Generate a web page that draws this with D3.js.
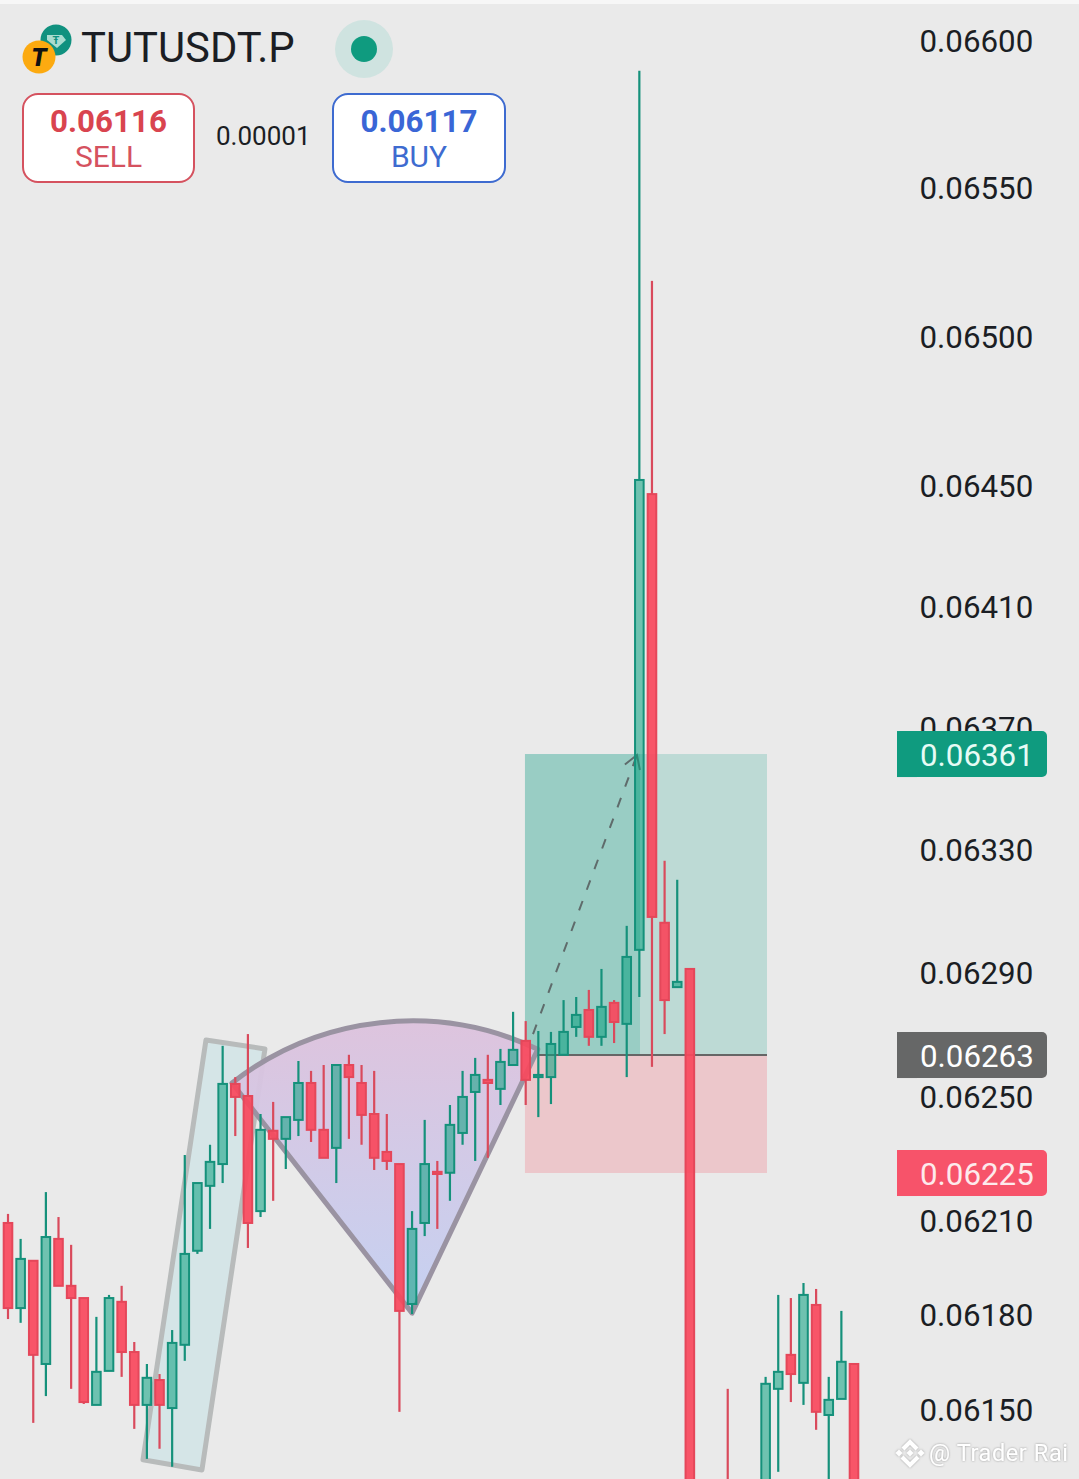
<!DOCTYPE html>
<html>
<head>
<meta charset="utf-8">
<script src="https://cdn.jsdelivr.net/npm/d3@7"></script>
<style>
html, body { margin: 0; padding: 0; background: #eaeaea; overflow: hidden; }
text { font-family: Roboto, sans-serif; }
</style>
</head>
<body>
<div id="chart"></div>
<script>
const width = 1079;
const height = 1479;

// bars 55, 56, 58, 59 sit fully below the visible window
const barIndex = [0,1,2,3,4,5,6,7,8,9,10,11,12,13,14,15,16,17,18,19,20,21,22,23,24,25,26,27,28,29,30,31,32,33,34,35,36,37,38,39,40,41,42,43,44,45,46,47,48,49,50,51,52,53,54,57,60,61,62,63,64,65,66,67];
const opens = [.062093,.061821,.061972,.061643,.062042,.061892,.061853,.061513,.061621,.061841,.061681,.061513,.061592,.061503,.061704,.062004,.062212,.062282,.062540,.062501,.062131,.062389,.062363,.062424,.062543,.062392,.062334,.062601,.062543,.062443,.062321,.062282,.061834,.062093,.062257,.062254,.062382,.062514,.062553,.062524,.062601,.062679,.062562,.062562,.062634,.062724,.062779,.062692,.062802,.062734,.062974,.064472,.063062,.062853,.062912,.061250,.061200,.061564,.061672,.061583,.061831,.061481,.061532,.061643];
const highs = [.062122,.062042,.061972,.062192,.062112,.062023,.061853,.061793,.061863,.061892,.061713,.061643,.061611,.061751,.062311,.062221,.062344,.062663,.062562,.062701,.062443,.062482,.062433,.062614,.062582,.062601,.062601,.062634,.062601,.062582,.062443,.062282,.062131,.062424,.062292,.062472,.062582,.062624,.062634,.062653,.062773,.062743,.062711,.062708,.062811,.062821,.062844,.062912,.062811,.063052,.065895,.065185,.063264,.063202,.062912,.061564,.061602,.061863,.061853,.061901,.061882,.061602,.061812,.061643];
const lows = [.061786,.061774,.061456,.061541,.061892,.061564,.061516,.061513,.061621,.061602,.061437,.061342,.061374,.061317,.061653,.061994,.062074,.062221,.062372,.062013,.062112,.062164,.062266,.062372,.062353,.062302,.062221,.062363,.062344,.062263,.062263,.061491,.061802,.062051,.062074,.062164,.062344,.062292,.062302,.062472,.062601,.062472,.062433,.062475,.062634,.062692,.062663,.062663,.062672,.062562,.062821,.062595,.062701,.062853,.061000,.061050,.061150,.061301,.061522,.061513,.061434,.061200,.061532,.061050];
const closes = [.061821,.061978,.061672,.062048,.061892,.061853,.061522,.061618,.061853,.061681,.061513,.061599,.061513,.061710,.061994,.062221,.062289,.062540,.062498,.062093,.062392,.062363,.062433,.062543,.062392,.062302,.062601,.062562,.062440,.062302,.062292,.061812,.062074,.062282,.062250,.062408,.062498,.062569,.062543,.062611,.062650,.062553,.062569,.062669,.062708,.062763,.062692,.062789,.062740,.062951,.064519,.063081,.062811,.062870,.061050,.061100,.061580,.061618,.061611,.061863,.061491,.061529,.061650,.061100];

const priceTicks = [0.066, 0.0655, 0.065, 0.0645, 0.0641, 0.0637, 0.0633, 0.0629, 0.0625, 0.0621, 0.0618, 0.0615];
const takeProfit = 0.06361;
const entry = 0.06263;
const stopLoss = 0.06225;

// drawings, in bar index and price
const flagCorners = [[15.68, .062682], [20.35, .062653], [15.36, .061307], [10.69, .061339]];
const wedgeLeft = [17.74, .062543];
const wedgeTip = [32.0, .061805];
const wedgeRight = [41.82, .062640];
const boxBars = [40.94, 60.11];
const boxDarkEnd = 50.05;
const arrowFrom = [41.58, .062701];
const arrowTo = [49.81, takeProfit];

const x = d3.scaleLinear().domain([0, 67]).range([8, 854]);
const y = d3.scaleLog().domain([0.066, 0.0615]).range([40, 1409]);

const svg = d3.select('#chart').append('svg')
    .attr('width', width)
    .attr('height', height)
    .style('display', 'block');

const defs = svg.append('defs');

const wedgeGrad = defs.append('linearGradient')
    .attr('id', 'wedgeFill')
    .attr('x1', 0).attr('y1', 0).attr('x2', 0).attr('y2', 1);
wedgeGrad.append('stop').attr('offset', '0%').attr('stop-color', '#ddc2dd');
wedgeGrad.append('stop').attr('offset', '100%').attr('stop-color', '#c3d0f2');

defs.append('marker')
    .attr('id', 'arrowHead')
    .attr('markerUnits', 'userSpaceOnUse')
    .attr('viewBox', '-14 -10 16 20')
    .attr('markerWidth', 16).attr('markerHeight', 20)
    .attr('refX', 0).attr('refY', 0)
    .attr('orient', 'auto')
    .append('path')
    .attr('d', 'M-13,-8L0,0L-13,8')
    .attr('fill', 'none')
    .attr('stroke', '#5f6b6b')
    .attr('stroke-width', 2);

defs.append('filter').attr('id', 'markShadow')
    .append('feDropShadow')
    .attr('dx', 0).attr('dy', 0).attr('stdDeviation', 1)
    .attr('flood-color', '#777').attr('flood-opacity', 0.75);

svg.append('rect').attr('width', width).attr('height', height).attr('fill', '#eaeaea');
svg.append('rect').attr('width', width).attr('height', 4).attr('fill', '#f7f7f7');

// position box
const box = svg.append('g').attr('transform', 'translate(0,-1)');
box.append('rect')
    .attr('x', x(boxBars[0])).attr('width', x(boxBars[1]) - x(boxBars[0]))
    .attr('y', y(takeProfit)).attr('height', y(entry) - y(takeProfit))
    .attr('fill', 'rgb(10,155,128)').attr('fill-opacity', 0.2);
box.append('rect')
    .attr('x', x(boxBars[0])).attr('width', x(boxDarkEnd) - x(boxBars[0]))
    .attr('y', y(takeProfit)).attr('height', y(entry) - y(takeProfit))
    .attr('fill', 'rgb(10,155,128)').attr('fill-opacity', 0.2);
box.append('rect')
    .attr('x', x(boxBars[0])).attr('width', x(boxBars[1]) - x(boxBars[0]))
    .attr('y', y(entry)).attr('height', y(stopLoss) - y(entry))
    .attr('fill', 'rgb(245,60,80)').attr('fill-opacity', 0.2);
box.append('line')
    .attr('x1', x(boxBars[0])).attr('x2', x(boxBars[1]))
    .attr('y1', y(entry)).attr('y2', y(entry))
    .attr('stroke', '#666').attr('stroke-width', 2);

// flag
svg.append('path')
    .attr('d', d3.line().x(d => x(d[0])).y(d => y(d[1]))(flagCorners) + 'Z')
    .attr('fill', 'rgb(0,188,212)').attr('fill-opacity', 0.085)
    .attr('stroke', '#b8bbbb').attr('stroke-width', 5)
    .attr('stroke-linejoin', 'round');

// wedge, a sector around its tip
const tipX = x(wedgeTip[0]), tipY = y(wedgeTip[1]);
const leftAngle = Math.atan2(y(wedgeLeft[1]) - tipY, x(wedgeLeft[0]) - tipX);
const rightAngle = Math.atan2(y(wedgeRight[1]) - tipY, x(wedgeRight[0]) - tipX);
const wedgeRadius = Math.hypot(x(wedgeLeft[0]) - tipX, y(wedgeLeft[1]) - tipY);
const wedgePath = d3.path();
wedgePath.moveTo(tipX, tipY);
wedgePath.arc(tipX, tipY, wedgeRadius, leftAngle, rightAngle);
wedgePath.closePath();
svg.append('path')
    .attr('d', wedgePath.toString())
    .attr('fill', 'url(#wedgeFill)').attr('fill-opacity', 0.95)
    .attr('stroke', '#9a93a2').attr('stroke-width', 5)
    .attr('stroke-linejoin', 'round');

// projected move
svg.append('line')
    .attr('x1', x(arrowFrom[0])).attr('y1', y(arrowFrom[1]))
    .attr('x2', x(arrowTo[0])).attr('y2', y(arrowTo[1]))
    .attr('stroke', '#5f6b6b').attr('stroke-width', 2)
    .attr('stroke-dasharray', '10 12')
    .attr('marker-end', 'url(#arrowHead)');

// candles
const candles = barIndex.map((b, i) => ({ b, o: opens[i], h: highs[i], l: lows[i], c: closes[i] }));
const bodyWidth = 8.6;
const isUp = d => d.c >= d.o;

const candle = svg.append('g').selectAll('g')
    .data(candles)
    .enter().append('g');

candle.append('line')
    .attr('x1', d => x(d.b)).attr('x2', d => x(d.b))
    .attr('y1', d => y(d.h)).attr('y2', d => y(Math.max(d.o, d.c)))
    .attr('stroke', d => isUp(d) ? '#15917b' : '#d94a5c')
    .attr('stroke-width', 2.2);

candle.append('line')
    .attr('x1', d => x(d.b)).attr('x2', d => x(d.b))
    .attr('y1', d => y(Math.min(d.o, d.c))).attr('y2', d => y(d.l))
    .attr('stroke', d => isUp(d) ? '#15917b' : '#d94a5c')
    .attr('stroke-width', 2.2);

candle.append('rect')
    .attr('x', d => x(d.b) - bodyWidth / 2)
    .attr('width', bodyWidth)
    .attr('y', d => y(Math.max(d.o, d.c)))
    .attr('height', d => Math.max(1, y(Math.min(d.o, d.c)) - y(Math.max(d.o, d.c))))
    .attr('fill', d => isUp(d) ? 'rgb(10,160,128)' : 'rgb(248,72,92)')
    .attr('fill-opacity', d => isUp(d) ? 0.55 : 0.92)
    .attr('stroke', d => isUp(d) ? '#15917b' : '#e5475a')
    .attr('stroke-width', 2);

// price axis
const axis = d3.axisRight(y)
    .tickValues(priceTicks)
    .tickSize(0)
    .tickPadding(0)
    .tickFormat(d3.format('.5f'));

const axisG = svg.append('g')
    .attr('transform', 'translate(919.5,1)')
    .call(axis);
axisG.select('.domain').remove();
axisG.selectAll('text')
    .attr('fill', '#1b1e24')
    .style('font-family', 'Roboto, sans-serif')
    .style('font-size', '31.3px');

// price tags
const tags = [
    { price: takeProfit, fill: '#0f9b7f', text: '#e6fbf5' },
    { price: entry, fill: '#666767', text: '#ffffff' },
    { price: stopLoss, fill: '#f7536a', text: '#fdeaec' }
];
const tag = svg.append('g').selectAll('g').data(tags).enter().append('g')
    .attr('transform', d => `translate(897,${y(d.price) - 1})`);
tag.append('rect')
    .attr('y', -23).attr('width', 150).attr('height', 46).attr('rx', 5)
    .attr('fill', d => d.fill);
tag.append('rect')
    .attr('y', -23).attr('width', 20).attr('height', 46)
    .attr('fill', d => d.fill);
tag.append('text')
    .attr('x', 23).attr('y', 12)
    .attr('fill', d => d.text)
    .style('font-size', '31.3px')
    .text(d => d3.format('.5f')(d.price));

// header
const header = svg.append('g');
header.append('circle').attr('cx', 56).attr('cy', 40).attr('r', 15.5).attr('fill', '#10917f');
header.append('path').attr('d', 'M47,35L62,35L66,40L57,48L47,40Z').attr('fill', '#a9dcd0');
header.append('text').attr('x', 56).attr('y', 44).attr('text-anchor', 'middle')
    .attr('fill', '#10917f').style('font-size', '11px').style('font-weight', 700).text('Ŧ');
header.append('circle').attr('cx', 39).attr('cy', 57).attr('r', 16.5).attr('fill', '#fcaa10');
header.append('text').attr('x', 39).attr('y', 66).attr('text-anchor', 'middle')
    .attr('fill', '#111').style('font-size', '25px').style('font-weight', 900).style('font-style', 'italic').text('T');

header.append('text').attr('x', 81).attr('y', 62)
    .attr('fill', '#1b1e24').style('font-size', '41.8px').text('TUTUSDT.P');

header.append('circle').attr('cx', 364).attr('cy', 49).attr('r', 29).attr('fill', '#cfe3e0');
header.append('circle').attr('cx', 364).attr('cy', 49).attr('r', 13).attr('fill', '#0f9b7f');

const buttons = [
    { x0: 23, x1: 194, color: '#d5525f', value: '0.06116', label: 'SELL', valueColor: '#d9444f' },
    { x0: 333, x1: 505, color: '#3e6bd0', value: '0.06117', label: 'BUY', valueColor: '#3a66d6' }
];
const button = header.selectAll('.button').data(buttons).enter().append('g').attr('class', 'button');
button.append('rect')
    .attr('x', d => d.x0).attr('y', 94)
    .attr('width', d => d.x1 - d.x0).attr('height', 88).attr('rx', 15)
    .attr('fill', '#fff').attr('stroke', d => d.color).attr('stroke-width', 2);
button.append('text')
    .attr('x', d => (d.x0 + d.x1) / 2).attr('y', 132).attr('text-anchor', 'middle')
    .attr('fill', d => d.valueColor)
    .style('font-size', '31.3px').style('font-weight', 700)
    .text(d => d.value);
button.append('text')
    .attr('x', d => (d.x0 + d.x1) / 2).attr('y', 167).attr('text-anchor', 'middle')
    .attr('fill', d => d.color)
    .style('font-size', '30px')
    .text(d => d.label);
header.append('text').attr('x', 216).attr('y', 145)
    .attr('fill', '#1b1e24').style('font-size', '26px').text('0.00001');

// watermark
const mark = svg.append('g').attr('filter', 'url(#markShadow)');
const chevrons = ['M903,1449L910,1442L917,1449', 'M902,1457L910,1465L918,1457'];
mark.selectAll('.chevron').data(chevrons).enter().append('path')
    .attr('class', 'chevron')
    .attr('d', d => d)
    .attr('fill', 'none').attr('stroke', '#fff').attr('stroke-width', 4);
const dots = [[910, 1453, 2.5], [899, 1453, 2.5], [921, 1453, 2.5]];
mark.selectAll('.dot').data(dots).enter().append('rect')
    .attr('class', 'dot')
    .attr('x', d => d[0] - d[2]).attr('y', d => d[1] - d[2])
    .attr('width', d => d[2] * 2).attr('height', d => d[2] * 2)
    .attr('transform', d => `rotate(45 ${d[0]} ${d[1]})`)
    .attr('fill', '#fff');
mark.append('text').attr('x', 929).attr('y', 1461)
    .attr('fill', '#fff').style('font-size', '23.5px').style('letter-spacing', '0.6px')
    .text('@ Trader Rai');
</script>
</body>
</html>
